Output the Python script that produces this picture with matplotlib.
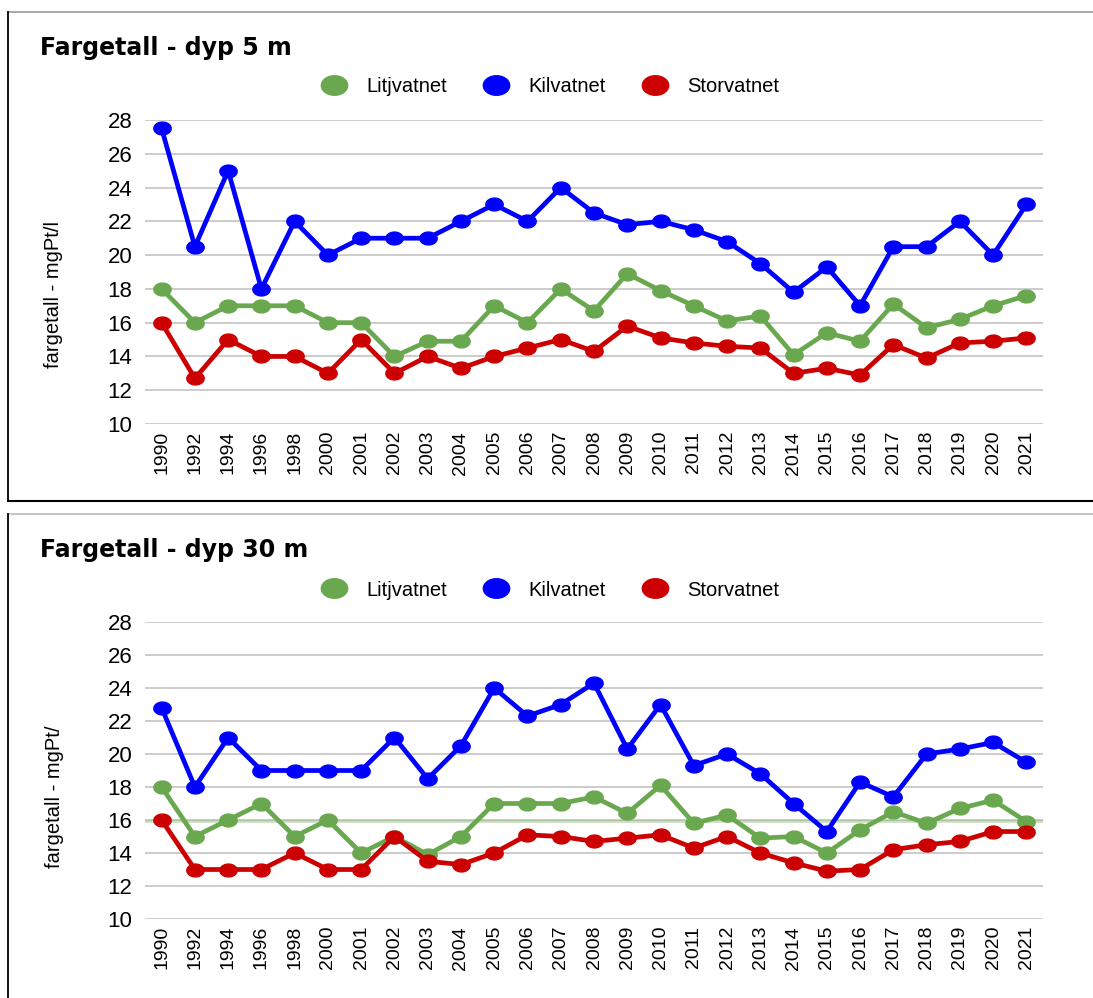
import matplotlib
matplotlib.use("Agg")
from matplotlib import pyplot as plt
from matplotlib.path import Path
from matplotlib.lines import Line2D
import numpy as np

plt.rcParams['font.family'] = ['Liberation Sans', 'DejaVu Sans']

years = ['1990', '1992', '1994', '1996', '1998', '2000'] + [str(y) for y in range(2001, 2022)]

# dyp 5 m
litj_5 = [18, 16, 17, 17, 17, 16, 16, 14, 14.9, 14.9, 17, 16, 18, 16.7, 18.9, 17.9,
          17, 16.1, 16.4, 14.1, 15.4, 14.9, 17.1, 15.7, 16.2, 17, 17.6]
kil_5 = [27.5, 20.5, 25, 18, 22, 20, 21, 21, 21, 22, 23, 22, 24, 22.5, 21.8, 22,
         21.5, 20.8, 19.5, 17.8, 19.3, 17, 20.5, 20.5, 22, 20, 23]
stor_5 = [16, 12.7, 15, 14, 14, 13, 15, 13, 14, 13.3, 14, 14.5, 15, 14.3, 15.8, 15.1,
          14.8, 14.6, 14.5, 13, 13.3, 12.9, 14.7, 13.9, 14.8, 14.9, 15.1]

# dyp 30 m
litj_30 = [18, 15, 16, 17, 15, 16, 14, 15, 13.9, 15, 17, 17, 17, 17.4, 16.4, 18.1,
           15.8, 16.3, 14.9, 15, 14, 15.4, 16.5, 15.8, 16.7, 17.2, 15.9]
kil_30 = [22.8, 18, 21, 19, 19, 19, 19, 21, 18.5, 20.5, 24, 22.3, 23, 24.3, 20.3, 23,
          19.3, 20, 18.8, 17, 15.3, 18.3, 17.4, 20, 20.3, 20.7, 19.5]
stor_30 = [16, 13, 13, 13, 14, 13, 13, 15, 13.5, 13.3, 14, 15.1, 15, 14.7, 14.9, 15.1,
           14.3, 15, 14, 13.4, 12.9, 13, 14.2, 14.5, 14.7, 15.3, 15.3]
ref_30 = 15.95

names = ['Litjvatnet', 'Kilvatnet', 'Storvatnet']
colors = ['#6aa84f', '#0000ff', '#cc0000']

# slightly wide ellipse marker
t = np.linspace(0, 2 * np.pi, 40)
ell = Path(np.column_stack([1.35 * np.cos(t), np.sin(t)]), closed=True)

W, H = 1093, 998
fig = plt.figure(figsize=(10.93, 9.98), dpi=100)


def panel(bottom, top, title, ylabel, series, title_y, legend_y, ylabel_y):
    ax = fig.add_axes([145 / W, 1 - bottom / H, (1043 - 145) / W, (bottom - top) / H])
    x = np.arange(len(years))
    for vals, c in zip(series, colors):
        ax.plot(x, vals, color=c, lw=3.4, marker=ell, ms=12.5, mec=c, mfc=c, zorder=3)
    ax.set_xlim(-0.5, len(years) - 0.5)
    ax.set_ylim(10, 28)
    ax.set_yticks(range(10, 29, 2))
    ax.set_xticks(x)
    ax.set_xticklabels(years, rotation=90, fontsize=14)
    ax.tick_params(axis='y', labelsize=16, length=0, pad=9)
    ax.tick_params(axis='x', length=0, pad=5)
    ax.grid(axis='y', color='#cccccc', lw=1.4)
    ax.set_axisbelow(True)
    for s in ax.spines.values():
        s.set_visible(False)
    fig.text(54 / W, 1 - ylabel_y / H, ylabel, fontsize=14.5, rotation=90,
             ha='center', va='center')
    fig.text(40 / W, 1 - title_y / H, title, fontsize=17, fontweight='bold',
             family='DejaVu Sans', va='center')
    handles = [Line2D([], [], ls='none', marker=ell, ms=19, color=c) for c in colors]
    fig.legend(handles, names, loc='center', bbox_to_anchor=(0.5, 1 - legend_y / H),
               ncol=3, frameon=False, fontsize=14.5, handlelength=2,
               handletextpad=0.6, columnspacing=1.45)
    return ax


ax1 = panel(424, 120, 'Fargetall - dyp 5 m', 'fargetall - mgPt/l',
            [litj_5, kil_5, stor_5], 48, 87, 295)
ax2 = panel(919, 622, 'Fargetall - dyp 30 m', 'fargetall - mgPt/',
            [litj_30, kil_30, stor_30], 550, 590, 797)
ax2.axhline(ref_30, color='#6aa84f', alpha=0.35, lw=2, zorder=2)

# panel frames
fig.add_artist(Line2D([8 / W, 1], [1 - 12 / H, 1 - 12 / H], color='#999999', lw=1.2))
fig.add_artist(Line2D([8 / W, 8 / W], [1 - 12 / H, 1 - 501 / H], color='black', lw=1.3))
fig.add_artist(Line2D([8 / W, 1], [1 - 501 / H, 1 - 501 / H], color='black', lw=1.5))
fig.add_artist(Line2D([8 / W, 1], [1 - 514 / H, 1 - 514 / H], color='#bbbbbb', lw=1.2))
fig.add_artist(Line2D([8 / W, 8 / W], [1 - 514 / H, 1 - 998 / H], color='black', lw=1.3))

fig.savefig('out.png', dpi=100)
